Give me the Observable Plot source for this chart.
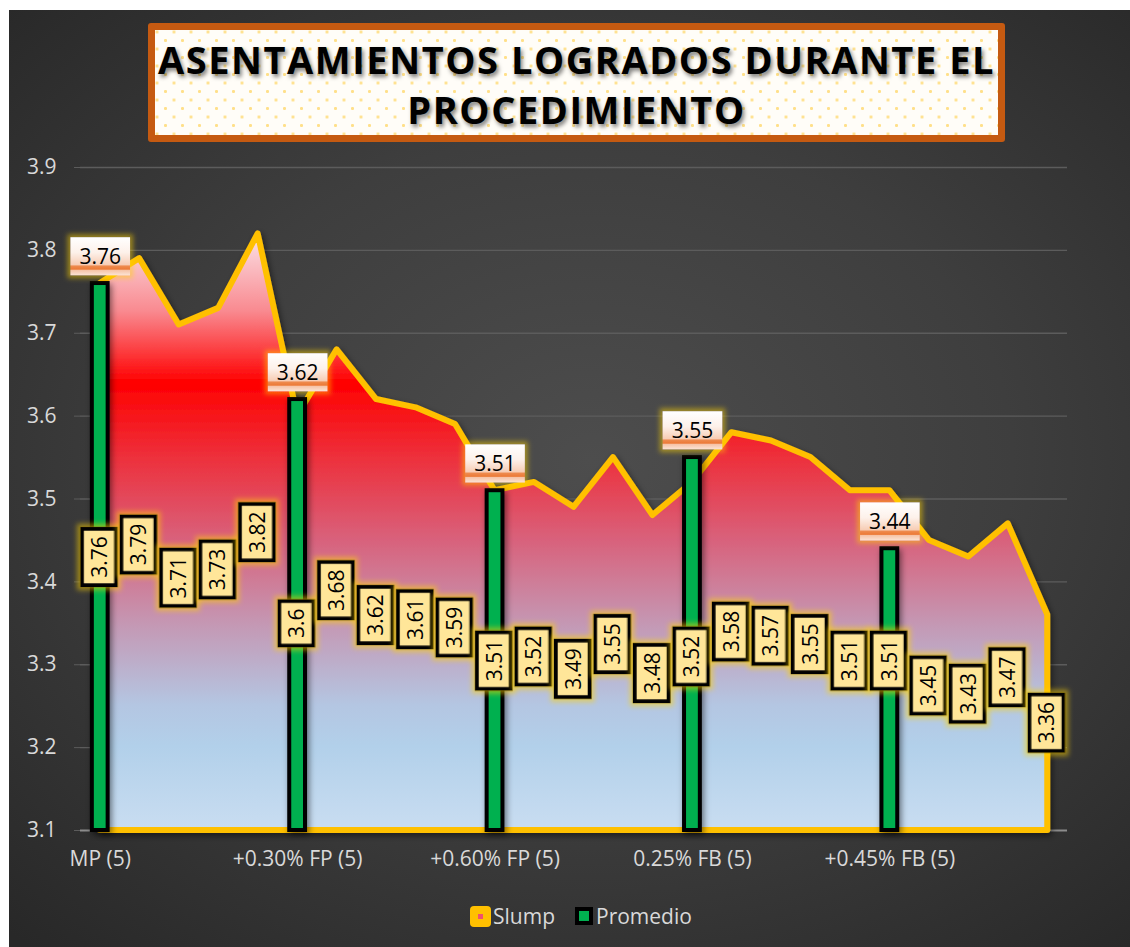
<!DOCTYPE html>
<html><head><meta charset="utf-8">
<script src="https://cdn.jsdelivr.net/npm/d3@7"></script>
<script src="https://cdn.jsdelivr.net/npm/@observablehq/plot@0.6"></script>
<style>
body{margin:0;background:#fff;width:1130px;height:947px;overflow:hidden;position:relative;font-family:"Open Sans",sans-serif}
#bg{position:absolute;left:9px;top:10px;width:1121px;height:937px;background:radial-gradient(ellipse 75% 70% at 52% 48%, #4d4d4d 0%, #3e3e3e 50%, #282828 100%)}
#title{position:absolute;left:148px;top:23px;width:857px;height:119px;box-sizing:border-box;border:7px solid #C55A11;border-radius:3px;background-color:#fffdf8;
background-image:radial-gradient(circle, #ffe08a 1.3px, transparent 1.7px),radial-gradient(circle, #ffe08a 1.3px, transparent 1.7px);
background-size:17px 17px;background-position:2px 2px,10.5px 10.5px;text-align:center;font-weight:700;font-size:38px;line-height:50px;padding-top:4px;color:#000;
text-shadow:2px 3px 4px rgba(0,0,0,0.5);letter-spacing:1.55px;font-family:"Open Sans",sans-serif}
#plot{position:absolute;left:0;top:150px}
#legend{position:absolute;top:902px;left:470px;display:flex;align-items:center;font-size:21px;color:#d9d9d9;font-family:"Open Sans",sans-serif}
.sw1{width:21px;height:21px;border-radius:4px;background:#FFC000;position:relative;margin-right:2px}
.sw1::after{content:"";position:absolute;left:8px;top:8px;width:5px;height:5px;background:#f0506e}
.sw2{width:18px;height:18px;background:#000;position:relative;margin-left:20px;margin-right:3px}
.sw2::after{content:"";position:absolute;left:4px;top:4px;width:10px;height:10px;background:#00B050}
</style></head>
<body>
<div id="bg"></div>
<div id="title">ASENTAMIENTOS LOGRADOS DURANTE EL<br>PROCEDIMIENTO</div>
<div id="plot"></div>
<div id="legend"><div class="sw1"></div><span>Slump</span><div class="sw2"></div><span>Promedio</span></div>
<script>
const groups = ["MP (5)", "+0.30% FP (5)", "+0.60% FP (5)", "0.25% FB (5)", "+0.45% FB (5)"];
const slump = [3.76,3.79,3.71,3.73,3.82, 3.6,3.68,3.62,3.61,3.59, 3.51,3.52,3.49,3.55,3.48, 3.52,3.58,3.57,3.55,3.51, 3.51,3.45,3.43,3.47,3.36];
const promedio = [3.76,3.62,3.51,3.55,3.44];
const yTicks = [3.1,3.2,3.3,3.4,3.5,3.6,3.7,3.8,3.9];
const yMin = 3.1, yMax = 3.9;
const groupSize = 5;

const sData = slump.map((v,i)=>({i, v}));
const pData = promedio.map((v,k)=>({i:k*groupSize, v}));

const plot = Plot.plot({
  width:1130, height:740, marginLeft:80, marginRight:63, marginTop:17, marginBottom:60,
  style:{background:"transparent", overflow:"visible", fontFamily:"Open Sans"},
  x:{domain:[-0.5, slump.length-0.5]},
  y:{domain:[yMin,yMax]},
  marks:[
    Plot.ruleY(yTicks.slice(1), {stroke:"#5c5c5c", strokeWidth:1.3}),
    Plot.ruleY([yMin], {stroke:"#8c8c8c", strokeWidth:2}),
    Plot.axisY({ticks:yTicks, tickFormat:d3.format(".1f"), tickSize:6, tickPadding:18, stroke:"#5c5c5c", fill:"#d9d9d9", fontSize:21, label:null}),
    Plot.axisX({ticks:d3.range(0, slump.length, groupSize), tickFormat:i=>groups[i/groupSize], tickSize:0, tickPadding:21, fill:"#d9d9d9", fontSize:21, label:null}),
    Plot.areaY(sData, {x:"i", y1:yMin, y2:"v", fill:"url(#areaGrad)", stroke:"#FFC000", strokeWidth:6, strokeLinejoin:"round"}),
    Plot.rect(pData, {x1:d=>d.i-0.2, x2:d=>d.i+0.2, y1:yMin, y2:"v", fill:"#00B050", stroke:"#000", strokeWidth:4}),
    Plot.text(sData, {x:"i", y:d=>(d.v+yMin)/2, text:d=>String(d.v), rotate:-90, fontSize:21, fill:"#000"}),
    Plot.text(pData, {x:"i", y:"v", dy:-26, text:d=>String(d.v), fontSize:21, fill:"#000"})
  ]
});
document.getElementById("plot").appendChild(plot);

const svg = d3.select(plot);
const ys = plot.scale("y");
const defs = svg.insert("defs", ":first-child");
const ag = defs.append("linearGradient").attr("id","areaGrad").attr("gradientUnits","userSpaceOnUse")
  .attr("x1",0).attr("x2",0).attr("y1",ys.apply(3.82)).attr("y2",ys.apply(yMin));
[[0,"#fbe3e8"],[0.13,"#f98a90"],[0.25,"#ff0000"],[0.37,"#ee2e39"],[0.51,"#d9607a"],[0.65,"#c596b2"],[0.79,"#b4c6e2"],[0.86,"#b2d0ea"],[1,"#c9ddf1"]]
  .forEach(([o,c])=>ag.append("stop").attr("offset",o).attr("stop-color",c));
const pg = defs.append("linearGradient").attr("id","promGrad").attr("x1",0).attr("x2",0).attr("y1",0).attr("y2",1);
[[0,"#ffffff"],[0.4,"#fdf1ea"],[0.72,"#f7cdb5"],[0.76,"#ee8a4e"],[0.84,"#ec7a36"],[0.87,"#f6c4a8"],[1,"#fbe3d4"]]
  .forEach(([o,c])=>pg.append("stop").attr("offset",o).attr("stop-color",c));
const glow = defs.append("filter").attr("id","glow").attr("x","-40%").attr("y","-40%").attr("width","180%").attr("height","180%");
glow.append("feMorphology").attr("in","SourceAlpha").attr("operator","dilate").attr("radius",3).attr("result","d");
glow.append("feGaussianBlur").attr("in","d").attr("stdDeviation",2.5).attr("result","b");
glow.append("feFlood").attr("flood-color","#ffd400").attr("flood-opacity",0.5);
glow.append("feComposite").attr("in2","b").attr("operator","in").attr("result","g");
const gm = glow.append("feMerge"); gm.append("feMergeNode").attr("in","g"); gm.append("feMergeNode").attr("in","SourceGraphic");
const sh = defs.append("filter").attr("id","shadow").attr("x","-10%").attr("y","-10%").attr("width","120%").attr("height","120%");
sh.append("feDropShadow").attr("dx",2).attr("dy",3).attr("stdDeviation",3).attr("flood-color","#000").attr("flood-opacity",0.5);

svg.selectAll('g[aria-label="area"]').attr("filter","url(#shadow)");
svg.selectAll('g[aria-label="rect"]').attr("filter","url(#shadow)");
const textGroups = plot.querySelectorAll('g[aria-label="text"]');
function boxes(g, padA, padB, fill, stroke){
  g.querySelectorAll("text").forEach(t=>{
    const bb = t.getBBox();
    const r = document.createElementNS("http://www.w3.org/2000/svg","rect");
    r.setAttribute("x", bb.x-padA); r.setAttribute("y", bb.y-padB);
    r.setAttribute("width", bb.width+2*padA); r.setAttribute("height", bb.height+2*padB);
    if (t.getAttribute("transform")) r.setAttribute("transform", t.getAttribute("transform"));
    r.setAttribute("fill", fill);
    if (stroke){ r.setAttribute("stroke", stroke); r.setAttribute("stroke-width", 4); }
    r.setAttribute("filter","url(#glow)");
    g.insertBefore(r, t);
  });
}
boxes(textGroups[0], 7.5, 3, "#FFE699", "#000");
boxes(textGroups[1], 9, 5, "url(#promGrad)", null);
</script>
</body></html>
